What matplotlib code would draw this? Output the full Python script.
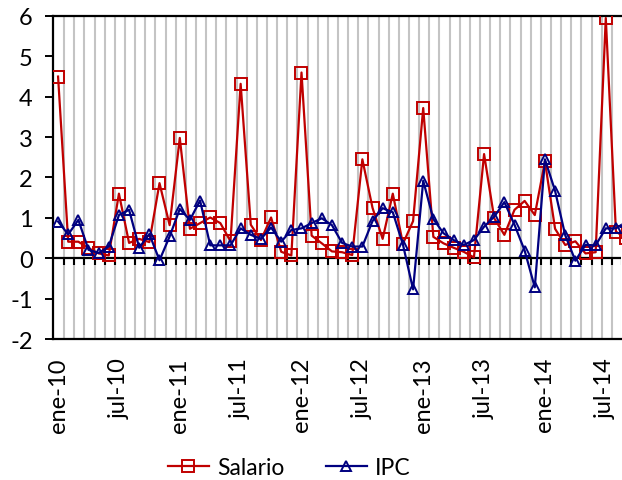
import matplotlib
matplotlib.use("Agg")
import matplotlib.pyplot as plt
import numpy as np

plt.rcParams["font.family"] = ["Lato", "DejaVu Sans"]
plt.rcParams["axes.unicode_minus"] = False

meses = ["ene", "feb", "mar", "abr", "may", "jun",
         "jul", "ago", "sep", "oct", "nov", "dic"]
anios = ["10", "11", "12", "13", "14"]

salario = [4.50, 0.41, 0.41, 0.25, 0.12, 0.07, 1.60, 0.38, 0.48, 0.40,
           1.86, 0.82, 2.98, 0.73, 0.87, 1.01, 0.87, 0.42, 4.32, 0.83,
           0.45, 1.01, 0.16, 0.07, 4.60, 0.56, 0.37, 0.17, 0.15, 0.08,
           2.45, 1.25, 0.48, 1.60, 0.36, 0.92, 3.72, 0.53, 0.37, 0.26,
           0.16, 0.02, 2.58, 0.99, 0.58, 1.20, 1.42, 1.07, 2.40, 0.73,
           0.33, 0.42, 0.12, 0.15, 5.95, 0.66, 0.50]
ipc = [0.91, 0.59, 0.95, 0.21, 0.13, 0.29, 1.07, 1.20, 0.26, 0.60,
       -0.05, 0.54, 1.22, 0.95, 1.43, 0.32, 0.32, 0.32, 0.74, 0.58,
       0.48, 0.76, 0.41, 0.70, 0.74, 0.87, 0.99, 0.82, 0.38, 0.29,
       0.29, 0.92, 1.24, 1.14, 0.34, -0.77, 1.92, 0.97, 0.62, 0.45,
       0.33, 0.45, 0.78, 1.03, 1.39, 0.83, 0.19, -0.72, 2.45, 1.67,
       0.57, -0.06, 0.33, 0.32, 0.74, 0.74, 0.90]

fechas = [f"{m}-{a}" for a in anios for m in meses][:len(salario)]
x = np.arange(len(fechas))

rojo = "#C00000"
azul = "#000080"

fig = plt.figure(figsize=(6.22, 4.81), dpi=100)
ax = fig.add_axes([0.0852, 0.2931, 0.9132, 0.6716])

# month separators
sep = x[:-1] + 0.6
for s in sep:
    ax.axvline(s, color="#c4c4c4", lw=1.5, zorder=0)
ax.axhline(0, color="black", lw=1.6, zorder=1)
ax.vlines(sep, -0.17, 0, color="black", lw=1.5, zorder=1)

ax.plot(x, salario, color=rojo, lw=1.6, marker="s", ms=8.5,
        mfc="none", mec=rojo, mew=1.4, label="Salario", zorder=3)
ax.plot(x, ipc, color=azul, lw=1.6, marker="^", ms=7,
        mfc="none", mec=azul, mew=1.4, label="IPC", zorder=4)

ax.set_xlim(-0.5, 55.5)
ax.set_ylim(-2, 6)
ax.set_yticks(range(-2, 7))
ax.set_xticks(x[::6])
ax.set_xticklabels(fechas[::6], rotation=90, fontsize=17)
ax.tick_params(axis="x", length=0, pad=13)
ax.tick_params(axis="y", length=6, width=1.4, pad=8.5, labelsize=17)

for side in ["left", "top", "bottom"]:
    ax.spines[side].set_linewidth(1.6)
    ax.spines[side].set_color("black")
ax.spines["right"].set_visible(False)

fig.legend(loc="center", bbox_to_anchor=(0.465, 0.025), ncol=2,
           frameon=False, fontsize=16.5, handlelength=1.8,
           handletextpad=0.35, columnspacing=1.8)

fig.savefig("out.png", dpi=100)
